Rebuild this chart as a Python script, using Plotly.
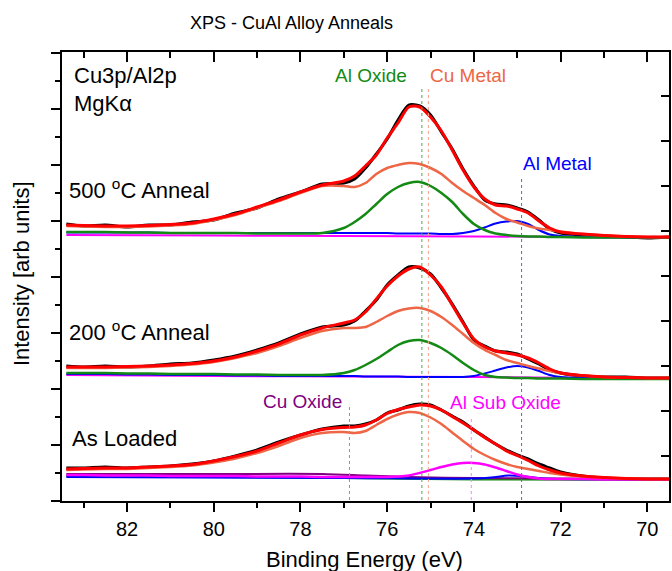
import plotly.graph_objects as go

# ---------------- data (binding energy in eV, intensity in arb. units, spectra stacked) -------------
energy = [83.4, 83.0, 82.5, 82.0, 81.5, 81.0, 80.5, 80.0, 79.5, 79.0, 78.5, 78.0, 77.5,
          77.0, 76.75, 76.5, 76.25, 76.0, 75.75, 75.5, 75.25, 75.0, 74.75, 74.5, 74.25, 74.0,
          73.75, 73.5, 73.25, 73.0, 72.75, 72.5, 72.25, 72.0,
          71.5, 71.0, 70.5, 70.0, 69.5]

# 500 C anneal (top)
data_500 = [277, 275, 276, 274, 276, 276, 279, 281, 288, 293, 302, 309, 317,
            318, 322, 333, 347, 362, 381, 396, 395, 386, 369, 352, 332, 315,
            301, 297, 296, 293, 289, 281, 272, 268,
            266, 265, 264, 263, 264]
fit_500 = [276, 275.5, 275, 275, 275.5, 276.5, 278, 282, 287, 294, 301, 309, 316,
           320, 325, 335, 346, 363, 378, 394, 394, 384, 370, 351, 331, 314,
           302, 296, 295, 292, 288, 280, 273, 269,
           267, 265.5, 264.5, 264, 264]
cu_metal_500 = [275, 274.5, 274, 274, 274.5, 275.5, 277, 281, 286, 293, 300, 308, 315,
                315, 314, 318, 327, 333, 336, 338, 337, 333, 327, 318, 310, 303,
                296, 288, 282, 278.5, 275, 272.5, 271, 269.5,
                267, 265.5, 264.5, 264, 264]
al_oxide_500 = [269, 269, 269, 268.5, 268.5, 268, 268, 268, 268, 267.5, 267.5, 267.5, 268,
                273, 279, 287, 297, 307, 314, 318, 319, 315, 308, 299, 287, 277,
                271, 267.5, 266, 265, 264.5, 264.5, 264, 264,
                263.5, 263.5, 263.5, 263.5, 263.5]
al_metal_500 = [268.5, 268.5, 268.5, 268.5, 268.5, 268, 268, 268, 268, 268, 268, 268, 268,
                268, 268, 268, 268, 268, 267.5, 267.5, 267.5, 267.5, 267, 267, 268, 270,
                273.5, 277.5, 279.5, 280, 277, 271, 266.5, 265,
                264, 263.5, 263.5, 263.5, 263.5]

# 200 C anneal (middle)
data_200 = [135, 134, 135, 134, 135, 137, 138, 141, 145, 151, 158, 167, 174,
            176, 180, 190, 201, 216, 226, 234, 233, 227, 213, 197, 179, 161,
            155, 150, 149, 147, 142, 137, 131, 128,
            125, 124, 124, 123, 123]
fit_200 = [134, 134, 134, 134.5, 135, 136, 137.5, 140, 144, 150, 157, 166, 173,
           178, 181, 189, 202, 215, 225, 232, 234, 226, 214, 196, 178, 162,
           154, 150, 148, 146, 143, 138, 132, 128,
           125.5, 124, 123.5, 123, 123]
cu_metal_200 = [133, 133, 133, 133.5, 134, 135, 136.5, 139, 143, 148, 155, 163, 170,
                173, 173, 174, 179, 185, 190, 192.5, 193, 190, 184, 176, 167, 158,
                151, 146, 141, 138, 135, 132.5, 130, 128,
                125.5, 124, 123.5, 123, 123]
al_oxide_200 = [128, 128, 128, 127.5, 127.5, 127, 127, 127, 126.5, 126.5, 126, 126, 126,
                128, 131, 136, 142, 149, 156, 160, 161, 158, 153, 146, 138, 131,
                126, 124, 123.5, 123, 123, 122.5, 122.5, 122.5,
                122, 122, 122, 122, 122]
al_metal_200 = [127, 127, 127, 126.5, 126.5, 126, 126, 126, 125.5, 125.5, 125, 125, 125,
                125, 125, 124.5, 124.5, 124.5, 124.5, 124, 124, 124, 124, 124, 124, 125,
                127.5, 130.5, 133.5, 135, 133.5, 130, 126, 124,
                123, 122.5, 122.5, 122.5, 122.5]

# As loaded (bottom)
data_as = [33, 33, 34, 33, 34, 35, 37, 40, 45, 51, 59, 66, 72,
           75, 75, 77, 81, 88, 91, 95, 97, 96, 91, 85, 79, 71,
           64, 57, 51, 46, 42, 37, 33, 29,
           25, 23, 22, 22, 22]
fit_as = [32, 32.5, 33, 33, 34, 35, 36.5, 40, 44.5, 50, 58, 66, 71.5,
          73.5, 74, 76, 81, 87.5, 91.5, 94, 96, 95, 91, 84.5, 78, 71,
          63.5, 57, 50, 45.5, 40.5, 35, 31, 28,
          25, 23.5, 22.5, 22, 22]
cu_metal_as = [31, 31.5, 32, 32, 33, 34, 35.5, 38.5, 42.5, 48, 55, 63, 68,
               69, 68, 70, 76, 82, 86.5, 89, 88, 83.5, 77, 68.5, 60, 52,
               46, 41, 37, 34, 32, 30, 28, 26.5,
               24.5, 23.5, 22.5, 22, 22]
al_suboxide_as = [26, 26, 25.5, 25.5, 25.5, 25, 25, 25, 25, 24.5, 24.5, 24.5, 24,
                  24, 24, 24, 24, 24, 24.5, 25.5, 28, 31, 34, 36.5, 38, 38,
                  36.5, 33.5, 30, 26.5, 24, 22.5, 22, 22,
                  22, 21.5, 21.5, 21.5, 21.5]

# flat / weak components on coarser grids
energy_flat = [83.4, 80.0, 77.0, 74.0, 71.0, 69.5]
al_suboxide_500 = [266, 265.5, 265, 264.5, 264, 263.5]
al_suboxide_200 = [126, 125, 124.5, 124, 123, 123]
energy_cuox = [83.4, 80.0, 77.5, 76.5, 75.5, 74.0, 72.0, 69.5]
cu_oxide_as = [27, 27, 27, 25.5, 24, 23, 22.5, 22]
energy_alm_as = [83.4, 77.0, 74.0, 73.6, 73.2, 72.8, 72.4, 69.5]
al_metal_as = [24, 23, 22.5, 23.5, 25.5, 24.5, 22.5, 22]
energy_alox_as = [83.4, 77.0, 74.0, 69.5]
al_oxide_as = [25, 23, 21.5, 21]

# reference peak positions (dotted markers) and their heights
ref_names = ["Al Oxide", "Cu Metal", "Al Metal", "Cu Oxide", "Al Sub Oxide"]
ref_energy = [75.2, 75.05, 72.9, 76.87, 74.06]
ref_top = [413, 413, 323, 96, 84]

# ---------------- styling ----------------
FONT = "Liberation Sans, Arial, sans-serif"
C_DATA = "black"
C_FIT = "#ff0000"
C_CU = "#ee6646"
C_ALOX = "#138a13"
C_ALM = "#0000ff"
C_SUB = "#ff00ff"
C_CUOX = "#800080"
ref_colors = [C_ALOX, C_CU, C_ALM, C_CUOX, C_SUB]
dot_colors = ["#4ea64e", "#f3a08c", "#5c5cff", "#b77ab7", "#ff7cff"]

fig = go.Figure()


def line(x, y, color, width):
    fig.add_trace(go.Scatter(x=x, y=y, mode="lines",
                             line=dict(color=color, width=width, shape="spline", smoothing=0.8),
                             showlegend=False, hoverinfo="skip"))


for d in (data_500, data_200, data_as):
    line(energy, d, C_DATA, 3)

line(energy_flat, al_suboxide_500, C_SUB, 2)
line(energy_flat, al_suboxide_200, C_SUB, 2)
line(energy_alox_as, al_oxide_as, C_ALOX, 2)
line(energy_cuox, cu_oxide_as, C_CUOX, 2)
line(energy_alm_as, al_metal_as, C_ALM, 2)

line(energy, al_metal_500, C_ALM, 2)
line(energy, al_metal_200, C_ALM, 2)
line(energy, al_oxide_500, C_ALOX, 2.5)
line(energy, al_oxide_200, C_ALOX, 2.5)
line(energy, al_suboxide_as, C_SUB, 2.5)
line(energy, cu_metal_500, C_CU, 2.5)
line(energy, cu_metal_200, C_CU, 2.5)
line(energy, cu_metal_as, C_CU, 2.5)

for f in (fit_500, fit_200, fit_as):
    line(energy, f, C_FIT, 3)

# invisible trace to activate the mirrored top / right tick axes
fig.add_trace(go.Scatter(x=[80], y=[100], xaxis="x2", yaxis="y2", mode="markers",
                         marker=dict(opacity=0), showlegend=False, hoverinfo="skip"))

shapes = []
for e, top, c in zip(ref_energy, ref_top, dot_colors):
    shapes.append(dict(type="line", xref="x", yref="y", x0=e, x1=e, y0=1, y1=top,
                       line=dict(color=c, width=1, dash="dot")))

ann = []
label_pos = {"Al Oxide": (76.38, 426), "Cu Metal": (74.13, 426), "Al Metal": (72.07, 338),
             "Cu Oxide": (77.96, 100), "Al Sub Oxide": (73.26, 99)}
for name, c in zip(ref_names, ref_colors):
    x, y = label_pos[name]
    ann.append(dict(x=x, y=y, xref="x", yref="y", text=name, showarrow=False,
                    font=dict(size=19, color=c, family=FONT), xanchor="center", yanchor="middle"))

for txt, x, y in [("Cu3p/Al2p", 83.27, 426), ("MgKα", 83.27, 398),
                  ("500 <sup>o</sup>C Anneal", 83.38, 312), ("200 <sup>o</sup>C Anneal", 83.38, 170),
                  ("As Loaded", 83.31, 63)]:
    ann.append(dict(x=x, y=y, xref="x", yref="y", text=txt, showarrow=False,
                    font=dict(size=22, color="black", family=FONT), xanchor="left", yanchor="middle"))

ann.append(dict(x=0.378, y=1.0646, xref="paper", yref="paper", text="XPS - CuAl Alloy Anneals",
                showarrow=False, font=dict(size=18, color="black", family=FONT),
                xanchor="center", yanchor="middle"))
ann.append(dict(x=0.499, y=-0.1314, xref="paper", yref="paper", text="Binding Energy (eV)",
                showarrow=False, font=dict(size=22, color="black", family=FONT),
                xanchor="center", yanchor="middle"))
ann.append(dict(x=-0.0657, y=0.5056, xref="paper", yref="paper", text="Intensity [arb units]",
                showarrow=False, textangle=-90, font=dict(size=22, color="black", family=FONT),
                xanchor="center", yanchor="middle"))

fig.update_layout(
    width=672, height=571,
    margin=dict(l=62, r=1, t=52, b=70),
    paper_bgcolor="white", plot_bgcolor="white",
    font=dict(family=FONT, color="black"),
    showlegend=False,
    shapes=shapes, annotations=ann,
    xaxis=dict(range=[83.5, 69.5], tickmode="linear", tick0=0, dtick=2,
               ticks="outside", ticklen=9, tickwidth=1.5, tickcolor="black",
               minor=dict(dtick=1, ticks="outside", ticklen=5, tickwidth=1.5, tickcolor="black"),
               showline=True, linecolor="black", linewidth=1.5, mirror=True,
               showgrid=False, zeroline=False, tickfont=dict(size=20, family=FONT)),
    xaxis2=dict(range=[83.5, 69.5], overlaying="x", side="top", anchor="y",
                tickmode="linear", tick0=0, dtick=2, ticks="inside", ticklen=10, tickwidth=1.5,
                tickcolor="black",
                minor=dict(dtick=1, ticks="inside", ticklen=6, tickwidth=1.5, tickcolor="black"),
                showticklabels=False, showline=False, showgrid=False, zeroline=False),
    yaxis=dict(range=[0, 449], tickmode="linear", tick0=0, dtick=56,
               ticks="outside", ticklen=9, tickwidth=1.5, tickcolor="black",
               minor=dict(dtick=28, ticks="outside", ticklen=5, tickwidth=1.5, tickcolor="black"),
               showticklabels=False, showline=True, linecolor="black", linewidth=1.5, mirror=True,
               showgrid=False, zeroline=False),
    yaxis2=dict(range=[0, 449], overlaying="y", side="right", anchor="x",
                tickmode="linear", tick0=0, dtick=45, ticks="inside", ticklen=8, tickwidth=1.5,
                tickcolor="black", showticklabels=False, showline=False, showgrid=False,
                zeroline=False),
)

fig.write_html("out.html", config={"displayModeBar": False},
               post_script="document.body.style.margin='0px';document.body.style.overflow='hidden';")
